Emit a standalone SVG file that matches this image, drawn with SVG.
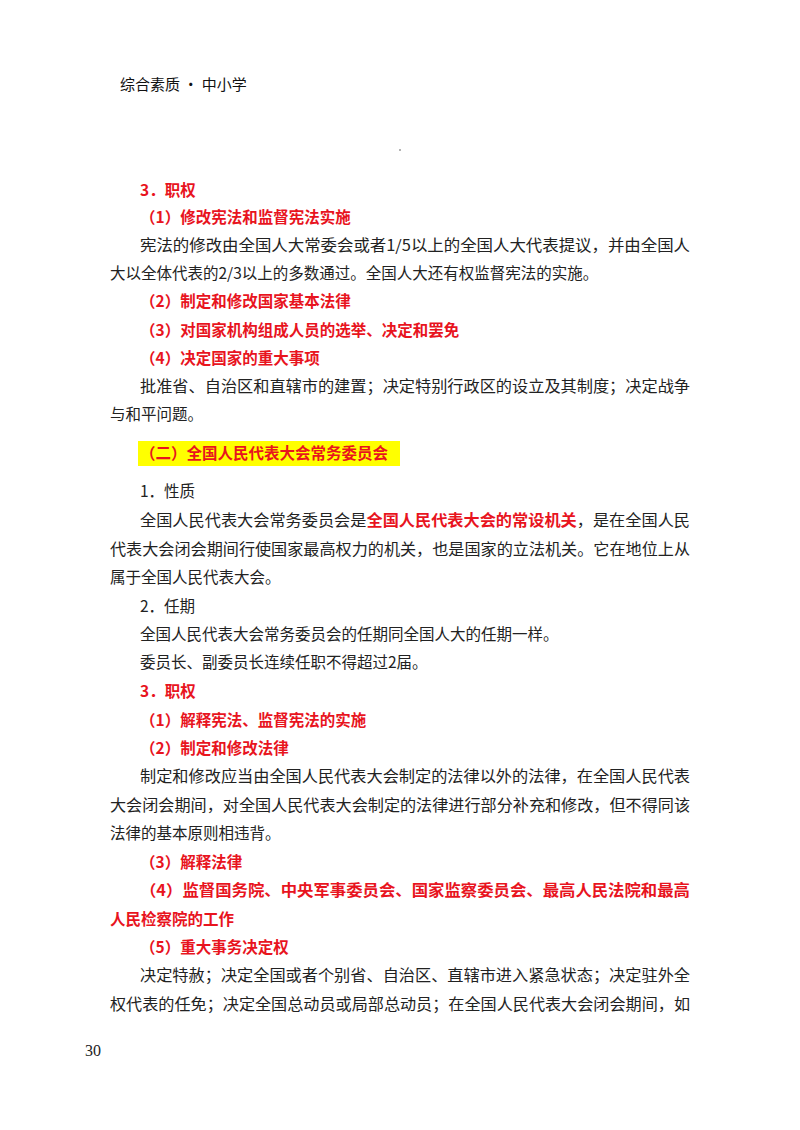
<svg xmlns="http://www.w3.org/2000/svg" width="800" height="1130" viewBox="0 0 800 1130">
<style>
text{font-family:"Noto Sans CJK SC","Liberation Serif",serif;font-size:15.5px;fill:#222}
.h{font-weight:bold;fill:#e8141e}
.r{font-weight:bold;fill:#e8141e}
.hd{font-size:15px;fill:#111}
</style>
<rect width="800" height="1130" fill="#fff"/>
<text class="hd" x="120" y="90">综合素质 • 中小学</text>
<circle cx="400" cy="150" r="0.8" fill="#555"/>
<text class="h" x="140" y="196">3．职权</text>
<text class="h" x="140" y="223">（1）修改宪法和监督宪法实施</text>
<text x="140" y="251" textLength="550" lengthAdjust="spacingAndGlyphs">宪法的修改由全国人大常委会或者1/5以上的全国人大代表提议，并由全国人</text>
<text x="110" y="279">大以全体代表的2/3以上的多数通过。全国人大还有权监督宪法的实施。</text>
<text class="h" x="140" y="307">（2）制定和修改国家基本法律</text>
<text class="h" x="140" y="336">（3）对国家机构组成人员的选举、决定和罢免</text>
<text class="h" x="140" y="364">（4）决定国家的重大事项</text>
<text x="140" y="392" textLength="550" lengthAdjust="spacingAndGlyphs">批准省、自治区和直辖市的建置；决定特别行政区的设立及其制度；决定战争</text>
<text x="110" y="420">与和平问题。</text>
<rect x="138" y="441" width="262" height="25" fill="#ffff00"/>
<text class="h" x="140" y="459">（二）全国人民代表大会常务委员会</text>
<text x="140" y="497">1．性质</text>
<text x="140" y="526" textLength="550" lengthAdjust="spacingAndGlyphs">全国人民代表大会常务委员会是<tspan class="r">全国人民代表大会的常设机关</tspan>，是在全国人民</text>
<text x="110" y="555" textLength="580" lengthAdjust="spacingAndGlyphs">代表大会闭会期间行使国家最高权力的机关，也是国家的立法机关。它在地位上从</text>
<text x="110" y="583">属于全国人民代表大会。</text>
<text x="140" y="612">2．任期</text>
<text x="140" y="640">全国人民代表大会常务委员会的任期同全国人大的任期一样。</text>
<text x="140" y="668">委员长、副委员长连续任职不得超过2届。</text>
<text class="h" x="140" y="697">3．职权</text>
<text class="h" x="140" y="726">（1）解释宪法、监督宪法的实施</text>
<text class="h" x="140" y="754">（2）制定和修改法律</text>
<text x="140" y="782" textLength="550" lengthAdjust="spacingAndGlyphs">制定和修改应当由全国人民代表大会制定的法律以外的法律，在全国人民代表</text>
<text x="110" y="811" textLength="580" lengthAdjust="spacingAndGlyphs">大会闭会期间，对全国人民代表大会制定的法律进行部分补充和修改，但不得同该</text>
<text x="110" y="839">法律的基本原则相违背。</text>
<text class="h" x="140" y="868">（3）解释法律</text>
<text class="h" x="140" y="896" textLength="550" lengthAdjust="spacingAndGlyphs">（4）监督国务院、中央军事委员会、国家监察委员会、最高人民法院和最高</text>
<text class="h" x="110" y="925">人民检察院的工作</text>
<text class="h" x="140" y="953">（5）重大事务决定权</text>
<text x="140" y="981" textLength="550" lengthAdjust="spacingAndGlyphs">决定特赦；决定全国或者个别省、自治区、直辖市进入紧急状态；决定驻外全</text>
<text x="110" y="1010" textLength="580" lengthAdjust="spacingAndGlyphs">权代表的任免；决定全国总动员或局部总动员；在全国人民代表大会闭会期间，如</text>
<text x="85" y="1056" style="font-family:'Liberation Serif',serif;font-size:16px">30</text>
</svg>
